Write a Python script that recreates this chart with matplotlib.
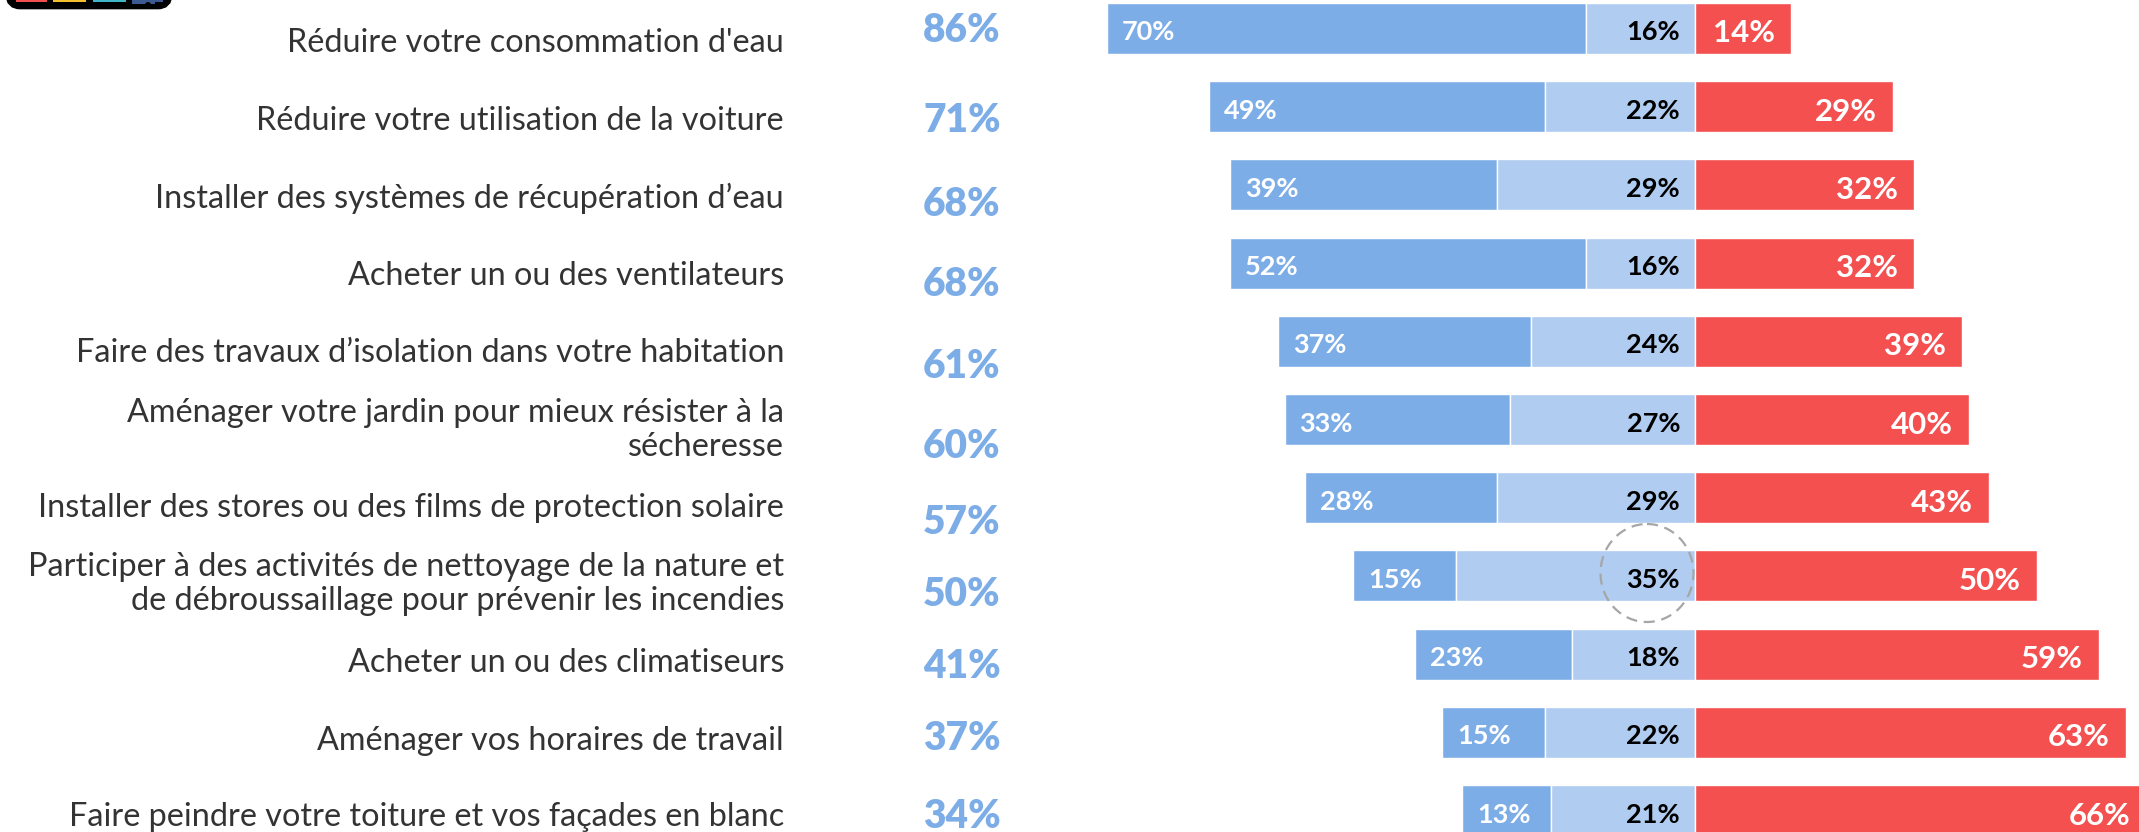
import matplotlib
matplotlib.use("Agg")
import matplotlib.pyplot as plt
from matplotlib.patches import Ellipse, FancyBboxPatch, Rectangle, Circle
from matplotlib.transforms import Affine2D

W, H = 2139, 832

categories = [
    "Réduire votre consommation d'eau",
    "Réduire votre utilisation de la voiture",
    "Installer des systèmes de récupération d’eau",
    "Acheter un ou des ventilateurs",
    "Faire des travaux d’isolation dans votre habitation",
    "Aménager votre jardin pour mieux résister à la\nsécheresse",
    "Installer des stores ou des films de protection solaire",
    "Participer à des activités de nettoyage de la nature et\nde débroussaillage pour prévenir les incendies",
    "Acheter un ou des climatiseurs",
    "Aménager vos horaires de travail",
    "Faire peindre votre toiture et vos façades en blanc",
]
totals = [86, 71, 68, 68, 61, 60, 57, 50, 41, 37, 34]
strong = [70, 49, 39, 52, 37, 33, 28, 15, 23, 15, 13]
moderate = [16, 22, 29, 16, 24, 27, 29, 35, 18, 22, 21]
negative = [14, 29, 32, 32, 39, 40, 43, 50, 59, 63, 66]

# layout (pixels)
X0, PX_PER_PCT = 1695, 6.84
Y0, ROW = 28.5, 78.2
BAR_H = 51
LABEL_Y = [43, 121, 198, 276, 353, 430, 508, 584, 663, 741, 817]
TOTAL_Y = [31, 120, 204, 285, 366, 447, 523, 595, 666, 739, 816]
LABEL_RIGHT, TOTAL_X = 784, 962
PAD = 15
BAR_TEXT_DY, RED_TEXT_DY = 4, 5

BLUE, LIGHT, RED = "#7DADE7", "#B0CDF1", "#F45050"

fig = plt.figure(figsize=(W / 100, H / 100), dpi=100, facecolor="white")
ax = fig.add_axes([0, 0, 1, 1])
ax.set_xlim(-X0 / PX_PER_PCT, (W - X0) / PX_PER_PCT)
ax.set_ylim((H - Y0) / ROW, -Y0 / ROW)
ax.axis("off")

px = Affine2D().scale(1, -1).translate(0, H)  # pixel coordinates, origin top-left
font = "Lato"

rows = list(range(len(categories)))
bar_h = BAR_H / ROW
kw = dict(height=bar_h, edgecolor="white", linewidth=1.0)
ax.barh(rows, [-v for v in strong], left=[-v for v in moderate], color=BLUE, **kw)
ax.barh(rows, [-v for v in moderate], color=LIGHT, **kw)
ax.barh(rows, negative, color=RED, **kw)

for i in rows:
    ax.text(-(strong[i] + moderate[i]), i, f"{strong[i]}%",
            transform=ax.transData + Affine2D().translate(PAD, -BAR_TEXT_DY),
            ha="left", va="center", color="white", fontsize=19.5, fontweight="bold", family=font)
    ax.text(0, i, f"{moderate[i]}%", transform=ax.transData + Affine2D().translate(-PAD, -BAR_TEXT_DY),
            ha="right", va="center", color="black", fontsize=19.5, fontweight="bold", family=font)
    ax.text(negative[i], i, f"{negative[i]}%", transform=ax.transData + Affine2D().translate(-PAD - 1, -RED_TEXT_DY),
            ha="right", va="center", color="white", fontsize=22.5, fontweight="bold", family=font, clip_on=False)
    fig.text(LABEL_RIGHT, LABEL_Y[i], categories[i], transform=px, ha="right", va="center",
             color="#333333", fontsize=23.3, family=font, linespacing=1.15,
             multialignment="right")
    fig.text(TOTAL_X, TOTAL_Y[i], f"{totals[i]}%", transform=px, ha="center", va="center",
             color=BLUE, fontsize=28, fontweight="heavy", family=font)

# dashed highlight ellipse
fig.add_artist(Ellipse((1647, 573), 93, 98, transform=px, fill=False, edgecolor="#A6A6A6",
                       linewidth=1.6, linestyle=(0, (5, 3))))

# cropped logo, top-left
fig.add_artist(FancyBboxPatch((14, -30), 150, 31, boxstyle="round,pad=0,rounding_size=6", transform=px,
                              facecolor="black", edgecolor="black", linewidth=12))
for x, w, c in [(16, 31, "#F04E4E"), (53, 33, "#F5C02E"), (93, 33, "#3FB6C8"), (132, 31, "#3C5A92")]:
    fig.add_artist(Rectangle((x, -5), w, 7, transform=px, facecolor=c, edgecolor="none"))
fig.add_artist(Rectangle((132, 1), 23, 3, transform=px, facecolor="#3C5A92", edgecolor="none"))
fig.add_artist(Circle((148, 5), 3, transform=px, facecolor="black", edgecolor="none"))

fig.savefig("out.png", dpi=100)
